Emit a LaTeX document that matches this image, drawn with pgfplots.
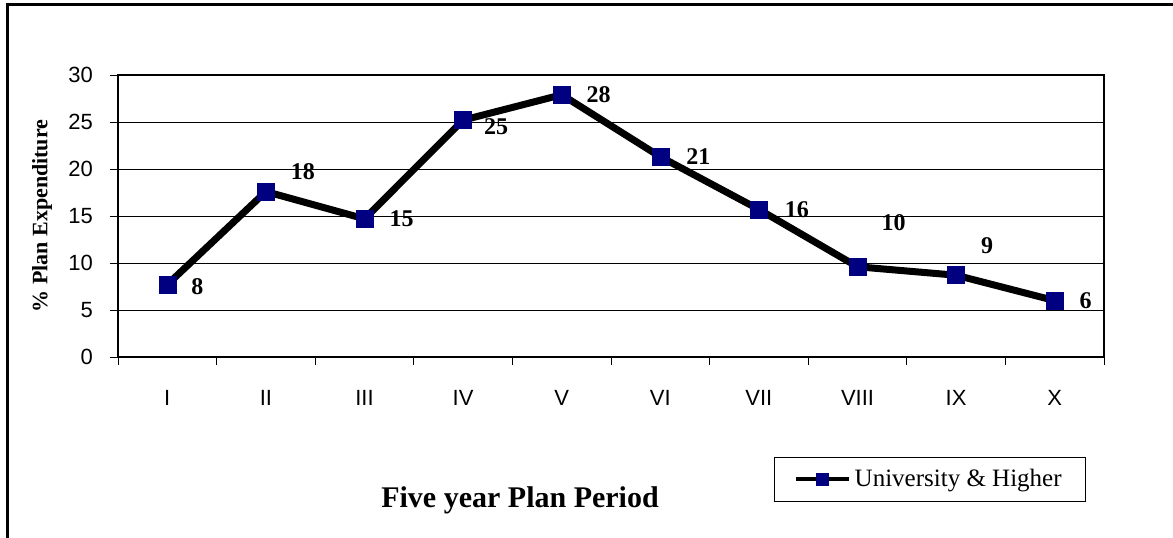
\documentclass[border=0pt]{standalone}
\usepackage{fontspec}
\setmainfont{Liberation Serif}
\setsansfont{Liberation Sans}
\usepackage{pgfplots}
\usepackage{pgfplotstable}
\pgfplotsset{compat=1.18}
\definecolor{navyblue}{RGB}{0,0,128}
\pgfplotstableread{
x y lab dx dy
1 7.7 8 15 -1
2 17.6 18 18.5 10
3 14.7 15 18.5 0
4 25.2 25 16.5 -3.5
5 27.9 28 18.5 0
6 21.3 21 19 0
7 15.7 16 19 0
8 9.6 10 18 22
9 8.7 9 15.5 15
10 6.0 6 15.5 0
}\datatable
\begin{document}
\begin{tikzpicture}
\useasboundingbox (0,0) rectangle (586.5pt,268.5pt);
\draw[line width=1.5pt] (3.5pt,-20pt) rectangle (620pt,266pt);
\begin{axis}[
  at={(59pt,90pt)}, anchor=south west,
  scale only axis, width=493pt, height=141pt,
  xmin=0.5, xmax=10.5, ymin=0, ymax=30,
  xtick={0.5,1.5,...,10.5},
  x tick label as interval,
  xticklabels={I,II,III,IV,V,VI,VII,VIII,IX,X},
  ytick={0,5,...,30},
  xtick pos=bottom, ytick pos=left,
  tick align=outside,
  major tick length=4pt,
  tick style={draw=black, line width=0.5pt},
  ymajorgrids,
  major grid style={black, line width=0.5pt},
  axis line style={line width=1pt},
  /pgf/number format/assume math mode=true,
  ticklabel style={font=\sffamily\fontsize{11}{13}\selectfont},
  xticklabel style={yshift=-9pt},
  yticklabel style={xshift=-5pt},
  clip=false,
  legend style={draw=black, line width=0.5pt, at={(0.8235,-0.434)}, anchor=center,
    inner xsep=10pt, inner ysep=4pt,
    font=\fontsize{12.5}{14}\selectfont},
  legend cell align=left,
  legend image code/.code={\draw[line width=2pt, mark size=3pt, mark repeat=2,mark phase=2] plot coordinates {(0cm,0cm)(0.46cm,0cm)(0.92cm,0cm)};},
]
\addplot[black, line width=3.5pt,
  mark=square*, mark size=4.25pt,
  mark options={fill=navyblue, draw=navyblue, line width=0.3pt},
  point meta=explicit symbolic,
  visualization depends on={\thisrow{dx} \as \dx},
  visualization depends on={\thisrow{dy} \as \dy},
  nodes near coords,
  nodes near coords style={anchor=center, xshift=\dx pt, yshift=\dy pt,
    font=\bfseries\fontsize{12}{14}\selectfont, text=black},
] table[x=x, y=y, meta=lab] {\datatable};
\addlegendentry{University \& Higher}
\end{axis}
\node[rotate=90, font=\bfseries\fontsize{11}{13}\selectfont] at (21pt,160.5pt) {\% Plan Expenditure};
\node[font=\bfseries\fontsize{15}{17}\selectfont] at (260pt,18.5pt) {Five year Plan Period};
\end{tikzpicture}
\end{document}
